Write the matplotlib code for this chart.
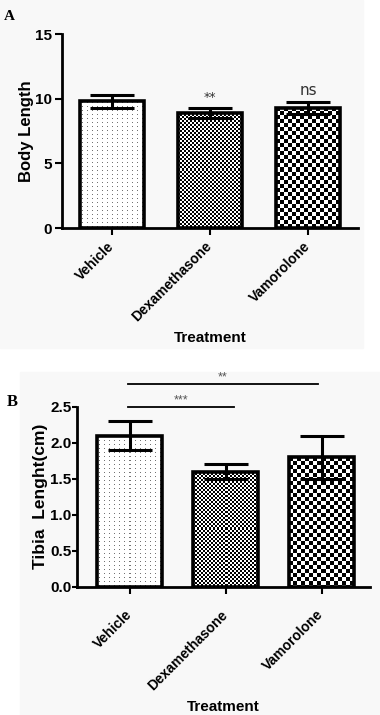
import matplotlib
matplotlib.use("Agg")
import matplotlib.pyplot as plt
import matplotlib.transforms as mtransforms
import numpy as np
from matplotlib.patches import Rectangle

plt.rcParams.update({
    "font.family": "Liberation Sans", "font.weight": "bold",
    "axes.linewidth": 2.0,
})

groups = ["Vehicle", "Dexamethasone", "Vamorolone"]
body_mean = [9.8, 8.9, 9.3]
body_err = [0.5, 0.4, 0.45]
tibia_mean = [2.1, 1.6, 1.8]
tibia_err = [0.2, 0.1, 0.3]
body_ticks = [0, 5, 10, 15]
tibia_ticks = [0.0, 0.5, 1.0, 1.5, 2.0, 2.5]
body_sig = ["", "**", "ns"]
# (start, end, height, label) of the comparison lines in panel B
tibia_brackets = [(-0.02, 1.09, 2.49, "***"), (-0.02, 1.96, 2.81, "**")]


def pattern(kind, h, w):
    yy, xx = np.mgrid[0:h, 0:w]
    img = np.ones((h, w))
    if kind == "dots":
        img[(yy % 4 == 1) & (xx % 5 == 2)] = 0.45
    elif kind == "fine":
        img = (((yy // 2) + (xx // 2)) % 2).astype(float)
    else:
        img = (((yy // 4) + (xx // 4)) % 2).astype(float)
    return img


KINDS = ["dots", "fine", "coarse"]

fig = plt.figure(figsize=(3.8, 7.15), dpi=100)
fig.patches.append(Rectangle((0, 1 - 348 / 715), 363 / 380, 348 / 715,
                             transform=fig.transFigure, color="#f8f8f8", zorder=-10))
fig.patches.append(Rectangle((20 / 380, 0), 360 / 380, 1 - 372 / 715,
                             transform=fig.transFigure, color="#f8f8f8", zorder=-10))

axA = fig.add_axes([62 / 380, 1 - 228 / 715, 296 / 380, 194 / 715])
axB = fig.add_axes([77 / 380, 1 - 586.7 / 715, 293 / 380, 180 / 715])

setups = [
    (axA, body_mean, body_err, body_ticks, (0, 15), (-0.51, 2.51), 0.66),
    (axB, tibia_mean, tibia_err, tibia_ticks, (0, 2.5), (-0.547, 2.505), 0.68),
]
all_bars = []
for ax, mean, err, ticks, ylim, xlim, w in setups:
    ax.set_facecolor("none")
    x = np.arange(len(groups))
    bars = ax.bar(x, mean, w, color="none", edgecolor="black", linewidth=2.6, zorder=3)
    ax.errorbar(x, mean, yerr=err, fmt="none", ecolor="black", elinewidth=2.2,
                capsize=16, capthick=2.2, zorder=4)
    ax.set_xlim(*xlim)
    ax.set_ylim(*ylim)
    ax.set_yticks(ticks)
    ax.set_xticks(x)
    ax.set_xticklabels(groups, rotation=45, ha="right", rotation_mode="anchor", fontsize=10)
    ax.spines["top"].set_visible(False)
    ax.spines["right"].set_visible(False)
    ax.set_xlabel("Treatment", fontsize=11, fontweight="bold")
    all_bars.append((ax, bars))

axA.set_yticklabels([f"{t:g}" for t in body_ticks], fontsize=11)
axB.set_yticklabels([f"{t:.1f}" for t in tibia_ticks], fontsize=11)
axA.tick_params(axis="y", width=1.5, length=5, pad=2)
axA.tick_params(axis="x", width=1.5, length=5, pad=3)
axB.tick_params(axis="y", width=1.5, length=3.5, pad=0.5)
axB.tick_params(axis="x", width=1.5, length=5, pad=10)
axA.set_ylabel("Body Length", fontsize=12, fontweight="bold", labelpad=1)
axB.set_ylabel("Tibia  Lenght(cm)", fontsize=12.5, fontweight="bold", labelpad=1.5)

axA.xaxis.set_label_coords(0.5, -0.53)
axB.xaxis.set_label_coords(0.5, -0.63)
shift = mtransforms.ScaledTranslation(-0.05, 0.0, fig.dpi_scale_trans)
for lbl in axA.get_xticklabels() + axB.get_xticklabels():
    lbl.set_transform(lbl.get_transform() + shift)

for i, s in enumerate(body_sig):
    if s:
        axA.text(i, body_mean[i] + body_err[i] + 0.3, s, ha="center", va="bottom",
                 fontsize=11 if s == "ns" else 9, fontweight="normal",
                 family="DejaVu Sans", color="#333333")

for a, b, y, s in tibia_brackets:
    axB.plot([a, b], [y, y], color="black", lw=1.3, clip_on=False)
    axB.text((a + b) / 2, y + 0.02, s, ha="center", va="bottom", fontsize=9,
             fontweight="normal", color="#555555", clip_on=False)

fig.text(4 / 380, 1 - 17 / 715, "A", family="Liberation Serif", fontsize=11, fontweight="bold", va="center")
fig.text(7 / 380, 1 - 402 / 715, "B", family="Liberation Serif", fontsize=12, fontweight="bold", va="center")

fig.canvas.draw()
for ax, bars in all_bars:
    for bar, kind in zip(bars, KINDS):
        bb = bar.get_window_extent()
        h = max(int(round(bb.height)), 1)
        w = max(int(round(bb.width)), 1)
        x0, y0 = bar.get_x(), bar.get_y()
        im = ax.imshow(pattern(kind, h, w), cmap="gray", vmin=0, vmax=1,
                       extent=(x0, x0 + bar.get_width(), y0, y0 + bar.get_height()),
                       interpolation="nearest", aspect="auto", zorder=2)
        im.set_clip_path(bar)
    ax.set_xlim(*ax.get_xlim())

fig.savefig("out.png", dpi=100)
